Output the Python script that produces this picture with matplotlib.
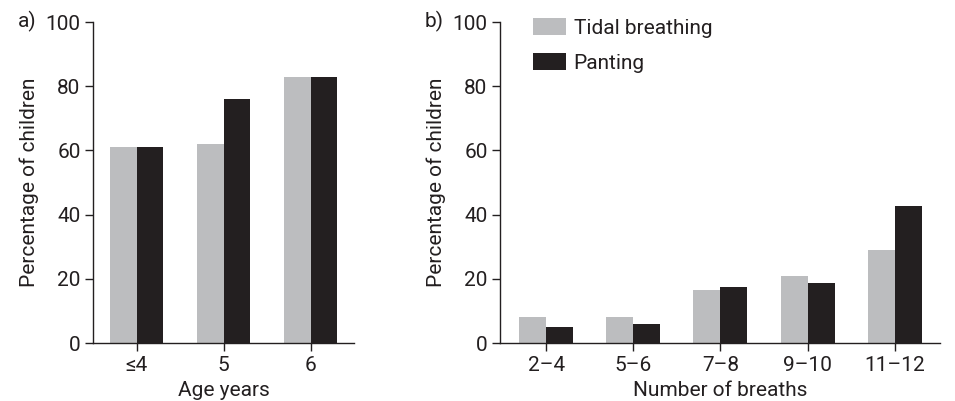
import matplotlib
matplotlib.use("Agg")
import matplotlib.pyplot as plt
import numpy as np

plt.rcParams['font.family'] = ['Roboto', 'DejaVu Sans']

age_groups = ['≤4', '5', '6']
age_tidal = [61, 62, 83]
age_panting = [61, 76, 83]

breath_groups = ['2–4', '5–6', '7–8', '9–10', '11–12']
breath_tidal = [8, 8, 16.5, 21, 29]
breath_panting = [5, 6, 17.5, 18.7, 42.7]

grey = '#bcbdbf'
dark = '#231f20'
fs = 15
w = 0.31

fig = plt.figure(figsize=(9.55, 4.01), dpi=100)
ax1 = fig.add_axes([0.0974, 0.1446, 0.2733, 0.8004])
ax2 = fig.add_axes([0.5236, 0.1446, 0.4607, 0.8004])

def style(ax):
    for s in ['top', 'right']:
        ax.spines[s].set_visible(False)
    for s in ['left', 'bottom']:
        ax.spines[s].set_linewidth(1.0)
        ax.spines[s].set_color('#231f20')
    ax.set_ylim(0, 100)
    ax.set_yticks([0, 20, 40, 60, 80, 100])
    ax.tick_params(direction='out', length=6, width=1.0, labelsize=fs,
                   colors='#231f20', pad=3)
    ax.set_ylabel('Percentage of children', fontsize=fs, color='#231f20', labelpad=5)

x1 = np.arange(len(age_groups))
ax1.bar(x1 - w / 2, age_tidal, w, color=grey)
ax1.bar(x1 + w / 2, age_panting, w, color=dark)
ax1.set_xticks(x1)
ax1.set_xticklabels(age_groups)
ax1.set_xlim(-0.5, 2.5)
style(ax1)
ax1.set_xlabel('Age years', fontsize=fs, color='#231f20', labelpad=5)

x2 = np.arange(len(breath_groups))
ax2.bar(x2 - w / 2, breath_tidal, w, color=grey, label='Tidal breathing')
ax2.bar(x2 + w / 2, breath_panting, w, color=dark, label='Panting')
ax2.set_xticks(x2)
ax2.set_xticklabels(breath_groups)
ax2.set_xlim(-0.53, 4.52)
style(ax2)
ax2.set_xlabel('Number of breaths', fontsize=fs, color='#231f20', labelpad=5)

leg = ax2.legend(loc='upper left', bbox_to_anchor=(0.075, 1.012), frameon=False,
                 fontsize=fs, handlelength=1.6, handleheight=0.87,
                 handletextpad=0.35, labelspacing=0.75, borderaxespad=0,
                 borderpad=0)
for t in leg.get_texts():
    t.set_color('#231f20')

fig.text(0.019, 0.947, 'a)', fontsize=fs, color='#231f20', va='center')
fig.text(0.445, 0.947, 'b)', fontsize=fs, color='#231f20', va='center')

fig.savefig('out.png', dpi=100)
